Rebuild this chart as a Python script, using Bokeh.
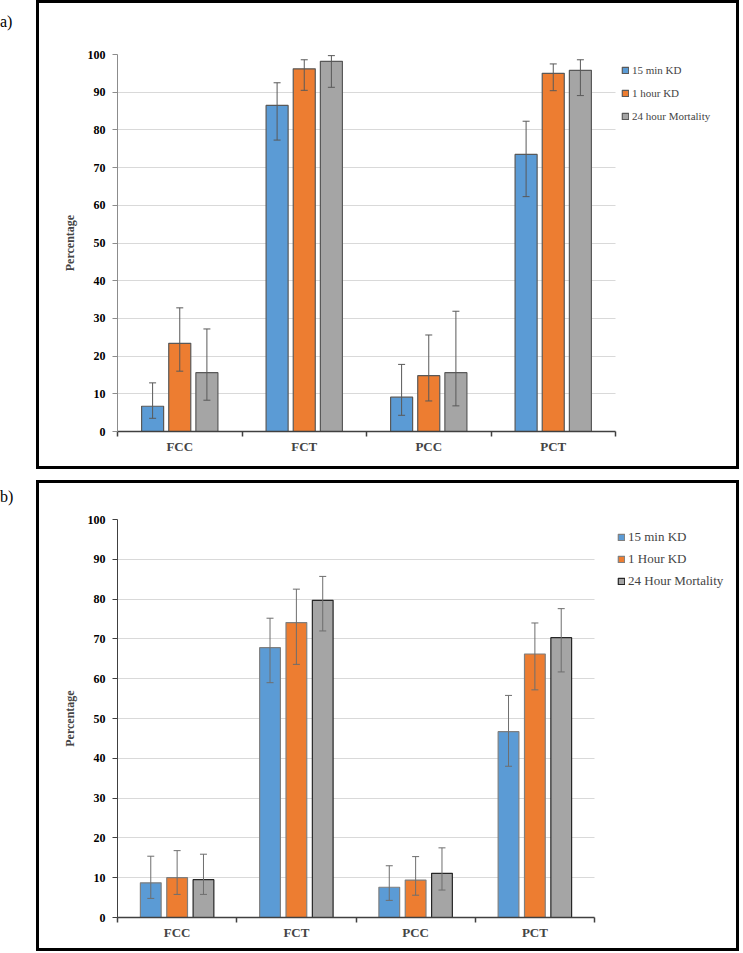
from bokeh.plotting import figure
from bokeh.models import (ColumnDataSource, Whisker, TeeHead, FixedTicker, Legend,
                          LegendItem, Range1d, Div, InlineStyleSheet)
from bokeh.layouts import column, row
from bokeh.embed import file_html
from bokeh.resources import INLINE

FONT = "Liberation Serif"

categories = ["FCC", "FCT", "PCC", "PCT"]
colors = ["#5B9BD5", "#ED7D31", "#A5A5A5"]

# ---- panel a ----
a_labels = ["15 min KD", "1 hour KD", "24 hour Mortality"]
a_15min = [6.7, 86.5, 9.1, 73.5]
a_15min_hi = [12.9, 92.5, 17.8, 82.3]
a_15min_lo = [3.5, 77.3, 4.3, 62.3]
a_1hour = [23.4, 96.2, 14.8, 95.0]
a_1hour_hi = [32.8, 98.6, 25.6, 97.5]
a_1hour_lo = [16.0, 90.5, 8.1, 90.4]
a_24hour = [15.6, 98.2, 15.6, 95.8]
a_24hour_hi = [27.2, 99.7, 31.9, 98.6]
a_24hour_lo = [8.3, 91.3, 6.8, 89.1]

# ---- panel b ----
b_labels = ["15 min KD", "1 Hour KD", "24 Hour Mortality"]
b_15min = [8.7, 67.8, 7.6, 46.7]
b_15min_hi = [15.4, 75.2, 13.0, 55.8]
b_15min_lo = [4.8, 59.0, 4.3, 38.0]
b_1hour = [10.0, 74.1, 9.4, 66.2]
b_1hour_hi = [16.8, 82.5, 15.3, 74.0]
b_1hour_lo = [5.8, 63.6, 5.6, 57.2]
b_24hour = [9.5, 79.7, 11.1, 70.3]
b_24hour_hi = [15.9, 85.7, 17.5, 77.6]
b_24hour_lo = [5.8, 72.0, 6.9, 61.7]

y_ticks = list(range(0, 101, 10))

BOX_CSS = InlineStyleSheet(css="""
:host { position: relative; }
:host::after {
  content: "";
  position: absolute;
  left: 0; top: 0; right: 0; bottom: 0;
  border: 3px solid #000;
  box-sizing: border-box;
  pointer-events: none;
  z-index: 50;
}
""")


def make_panel(series, his, los, labels, W, H, mt, mb, ml, mr, chart_px,
               bw, off, edge_colors, err_color, yaxis_color, leg_loc, leg_font,
               leg_lh, leg_sp):
    n = len(categories)
    frame_w = W - ml - mr
    x_end = n * frame_w / chart_px
    p = figure(width=W, height=H, output_backend="svg", toolbar_location=None,
               x_range=Range1d(0, x_end), y_range=Range1d(0, 100),
               min_border_left=ml, min_border_right=mr,
               min_border_top=mt, min_border_bottom=mb)
    p.stylesheets = [BOX_CSS]
    p.outline_line_color = None
    p.xgrid.visible = False
    p.ygrid.grid_line_color = "#D9D9D9"
    p.ygrid.grid_line_width = 1
    p.ygrid.cross_bounds = (0, n)

    # y axis
    yax = p.yaxis[0]
    yax.ticker = FixedTicker(ticks=y_ticks, minor_ticks=[])
    yax.axis_label = "Percentage"
    yax.axis_label_text_font = FONT
    yax.axis_label_text_font_style = "bold"
    yax.axis_label_text_font_size = "12px"
    yax.axis_label_standoff = 8
    yax.major_label_text_font = FONT
    yax.major_label_text_font_style = "bold"
    yax.major_label_text_font_size = "12px"
    yax.major_label_standoff = 7
    yax.major_tick_out = 5
    yax.major_tick_in = 0
    yax.minor_tick_out = 0
    yax.minor_tick_in = 0
    yax.axis_line_color = yaxis_color
    yax.major_tick_line_color = yaxis_color
    yax.major_label_text_color = "black"

    # x axis: labels at category centres, ticks at boundaries
    xax = p.xaxis[0]
    centres = [i + 0.5 for i in range(n)]
    xax.bounds = (0, n)
    xax.ticker = FixedTicker(ticks=centres, minor_ticks=list(range(n + 1)))
    xax.major_label_overrides = {c: cat for c, cat in zip(centres, categories)}
    xax.major_label_text_font = FONT
    xax.major_label_text_font_style = "bold"
    xax.major_label_text_font_size = "13px"
    xax.major_label_standoff = 2
    xax.major_tick_out = 0
    xax.major_tick_in = 0
    xax.minor_tick_out = 5
    xax.minor_tick_in = 0
    xax.axis_line_color = "#404040"
    xax.axis_line_width = 1.5
    xax.minor_tick_line_color = "#404040"
    xax.minor_tick_line_width = 1.5

    items = []
    for j, (vals, hi, lo, lab) in enumerate(zip(series, his, los, labels)):
        xs = [i + 0.5 + off[j] for i in range(n)]
        src = ColumnDataSource(dict(x=xs, top=vals, upper=hi, lower=lo))
        r = p.vbar(x="x", top="top", width=bw, source=src,
                   fill_color=colors[j], line_color=edge_colors[j],
                   line_width=1.2)
        w = Whisker(base="x", upper="upper", lower="lower", source=src,
                    line_color=err_color, line_width=1,
                    upper_head=TeeHead(size=7, line_color=err_color, line_width=1),
                    lower_head=TeeHead(size=7, line_color=err_color, line_width=1),
                    level="overlay")
        p.add_layout(w)
        items.append(LegendItem(label=lab, renderers=[r]))

    leg = Legend(items=items, location=leg_loc, orientation="vertical",
                 glyph_width=8, glyph_height=8, label_height=leg_lh,
                 spacing=leg_sp, padding=0, margin=0,
                 border_line_color=None, background_fill_alpha=0,
                 label_text_font=FONT, label_text_font_size=leg_font,
                 label_standoff=3)
    p.add_layout(leg)
    return p


def tag_div(text, H, pad):
    return Div(text=f'<div style="font-family:\'Liberation Serif\';font-size:16px;'
                    f'line-height:18px;padding-top:{pad}px;color:#000;">{text}</div>',
               width=36, height=H, margin=0)


pa = make_panel([a_15min, a_1hour, a_24hour],
                [a_15min_hi, a_1hour_hi, a_24hour_hi],
                [a_15min_lo, a_1hour_lo, a_24hour_lo], a_labels,
                W=703, H=469, mt=54, mb=38, ml=81, mr=3, chart_px=498,
                bw=0.177, off=[-0.218, 0.0, 0.218],
                edge_colors=["#595959", "#595959", "#595959"],
                err_color="#595959", yaxis_color="#8C8C8C",
                leg_loc=(504, 308), leg_font="11px", leg_lh=15, leg_sp=8)

pb = make_panel([b_15min, b_1hour, b_24hour],
                [b_15min_hi, b_1hour_hi, b_24hour_hi],
                [b_15min_lo, b_1hour_lo, b_24hour_lo], b_labels,
                W=703, H=471, mt=39, mb=34, ml=81, mr=3, chart_px=477,
                bw=0.174, off=[-0.221, 0.0, 0.221],
                edge_colors=["#7F7F7F", "#7F7F7F", "#262626"],
                err_color="#6E6E6E", yaxis_color="#404040",
                leg_loc=(500, 328), leg_font="13px", leg_lh=16, leg_sp=6)

layout = column(row(tag_div("a)", 469, 13), pa, spacing=0),
                row(tag_div("b)", 471, 8), pb, spacing=0),
                spacing=11)
open("out.html", "w").write(file_html(layout, INLINE))
